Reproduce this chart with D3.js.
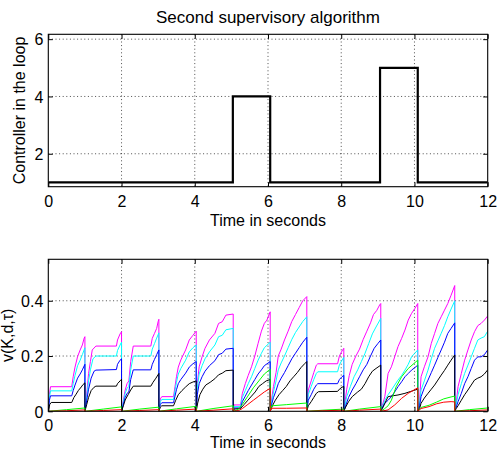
<!DOCTYPE html>
<html>
<head>
<meta charset="utf-8">
<script src="https://cdn.jsdelivr.net/npm/d3@7"></script>
<style>
  html, body { margin: 0; padding: 0; background: #fff; }
  svg { display: block; font-family: "Liberation Sans", Arial, Helvetica, sans-serif; }
</style>
</head>
<body>
<svg id="chart" width="499" height="453"></svg>
<script>
// ---------------- DATA ----------------
const title = "Second supervisory algorithm";
const xLabel = "Time in seconds";
const topYLabel = "Controller in the loop";
const bottomYLabel = "v(K,d,\u03C4)";

const xTicks = [0, 2, 4, 6, 8, 10, 12];
const topYTicks = [2, 4, 6];
const bottomYTicks = [0, 0.2, 0.4];
const bottomYTickLabels = ["0", "0.2", "0.4"];

// Controller in the loop (switch times and controller index)
const switchTimes = [0, 5.04, 6.06, 9.06, 10.09, 12];
const controllerIndex = [1, 4, 1, 5, 1, 1];

// v(K,d,tau) series, [time, value]
const magenta = [
  [0,0],[0.03,0.06],[0.06,0.089],[0.64,0.089],[0.68,0.125],[0.73,0.16],[0.8,0.198],[0.87,0.222],[0.93,0.24],[0.98,0.265],[1.0,0.27],
  [1.0,0],[1.04,0.05],[1.1,0.137],[1.15,0.18],[1.2,0.222],[1.3,0.236],[1.86,0.236],[1.89,0.258],[1.96,0.28],[2.0,0.288],
  [2.0,0],[2.05,0.04],[2.1,0.077],[2.15,0.1],[2.2,0.11],[2.25,0.18],[2.32,0.236],[2.8,0.236],[2.84,0.264],[2.9,0.282],[2.96,0.3],[3.0,0.325],[3.02,0.333],
  [3.02,0],[3.06,0.045],[3.1,0.053],[3.42,0.053],[3.46,0.089],[3.5,0.125],[3.55,0.16],[3.62,0.186],[3.75,0.222],[3.85,0.258],[3.95,0.275],[4.04,0.29],
  [4.04,0],[4.07,0.1],[4.12,0.161],[4.2,0.197],[4.28,0.228],[4.4,0.258],[4.55,0.282],[4.65,0.318],[4.75,0.324],[4.85,0.348],[5.05,0.352],
  [5.05,0],[5.07,0.023],[5.25,0.023],[5.3,0.065],[5.38,0.1],[5.46,0.13],[5.55,0.161],[5.64,0.2],[5.73,0.246],[5.82,0.29],[5.9,0.318],[5.97,0.33],[6.06,0.36],
  [6.06,0],[6.1,0.045],[6.15,0.09],[6.22,0.14],[6.28,0.2],[6.36,0.225],[6.45,0.258],[6.55,0.29],[6.65,0.325],[6.75,0.35],[6.85,0.375],[6.95,0.4],[7.06,0.415],
  [7.06,0],[7.1,0.077],[7.18,0.11],[7.25,0.14],[7.32,0.167],[7.36,0.172],[7.9,0.172],[7.95,0.2],[8.02,0.218],[8.07,0.228],
  [8.07,0],[8.1,0.03],[8.15,0.08],[8.22,0.13],[8.3,0.17],[8.4,0.2],[8.5,0.225],[8.6,0.26],[8.7,0.29],[8.8,0.32],[8.88,0.35],[8.97,0.365],[9.05,0.385],[9.08,0.39],
  [9.08,0],[9.12,0.02],[9.19,0.053],[9.28,0.137],[9.37,0.161],[9.46,0.197],[9.55,0.234],[9.65,0.264],[9.74,0.294],[9.83,0.33],[9.92,0.354],[10.01,0.372],[10.09,0.39],
  [10.09,0],[10.14,0.04],[10.18,0.125],[10.27,0.161],[10.37,0.197],[10.46,0.246],[10.55,0.282],[10.64,0.318],[10.73,0.342],[10.82,0.366],[10.91,0.39],[11.0,0.42],[11.1,0.455],
  [11.1,0],[11.14,0.03],[11.19,0.089],[11.28,0.137],[11.37,0.185],[11.46,0.222],[11.55,0.258],[11.64,0.288],[11.73,0.31],[11.82,0.318],[11.91,0.33],[12.0,0.345]
];
const cyan = [
  [0,0],[0.03,0.05],[0.06,0.074],[0.64,0.074],[0.68,0.1],[0.73,0.13],[0.8,0.165],[0.87,0.185],[0.93,0.205],[1.0,0.23],
  [1.0,0],[1.04,0.04],[1.1,0.11],[1.15,0.15],[1.22,0.19],[1.3,0.2],[1.86,0.2],[1.89,0.22],[1.96,0.24],[2.0,0.25],
  [2.0,0],[2.05,0.035],[2.1,0.065],[2.15,0.083],[2.2,0.09],[2.25,0.15],[2.32,0.2],[2.8,0.2],[2.84,0.225],[2.9,0.245],[2.96,0.265],[3.02,0.284],
  [3.02,0],[3.06,0.035],[3.1,0.043],[3.42,0.043],[3.46,0.075],[3.5,0.105],[3.55,0.135],[3.62,0.155],[3.75,0.185],[3.85,0.215],[3.95,0.23],[4.04,0.24],
  [4.04,0],[4.07,0.085],[4.12,0.135],[4.2,0.165],[4.28,0.19],[4.4,0.215],[4.55,0.24],[4.65,0.27],[4.75,0.275],[4.85,0.295],[5.05,0.3],
  [5.05,0],[5.07,0.017],[5.25,0.017],[5.3,0.05],[5.38,0.075],[5.46,0.1],[5.55,0.125],[5.64,0.155],[5.73,0.185],[5.82,0.21],[5.9,0.23],[6.06,0.25],
  [6.06,0],[6.1,0.035],[6.15,0.07],[6.22,0.11],[6.28,0.15],[6.36,0.175],[6.45,0.2],[6.55,0.23],[6.65,0.26],[6.75,0.285],[6.85,0.305],[6.95,0.325],[7.06,0.342],
  [7.06,0],[7.1,0.06],[7.18,0.09],[7.25,0.115],[7.32,0.137],[7.36,0.143],[7.9,0.143],[7.95,0.168],[8.02,0.185],[8.07,0.195],
  [8.07,0],[8.1,0.02],[8.15,0.053],[8.25,0.09],[8.35,0.125],[8.45,0.15],[8.55,0.18],[8.65,0.21],[8.75,0.245],[8.85,0.28],[8.95,0.305],[9.08,0.336],
  [9.08,0],[9.12,0.015],[9.19,0.04],[9.28,0.06],[9.37,0.077],[9.46,0.095],[9.55,0.113],[9.65,0.13],[9.74,0.149],[9.83,0.17],[9.92,0.197],[10.01,0.21],[10.09,0.222],
  [10.09,0],[10.14,0.03],[10.18,0.077],[10.27,0.11],[10.37,0.149],[10.46,0.19],[10.55,0.228],[10.64,0.255],[10.73,0.282],[10.82,0.31],[10.91,0.342],[11.0,0.37],[11.1,0.4],
  [11.1,0],[11.14,0.025],[11.19,0.06],[11.28,0.1],[11.37,0.137],[11.46,0.167],[11.55,0.197],[11.64,0.228],[11.73,0.258],[11.82,0.265],[11.91,0.27],[12.0,0.29]
];
const blue = [
  [0,0],[0.03,0.04],[0.06,0.056],[0.64,0.056],[0.68,0.075],[0.73,0.095],[0.8,0.12],[0.87,0.135],[0.93,0.15],[1.0,0.17],
  [1.0,0],[1.05,0.04],[1.1,0.08],[1.17,0.12],[1.25,0.145],[1.3,0.149],[1.86,0.151],[1.89,0.17],[1.96,0.185],[2.0,0.19],
  [2.0,0],[2.05,0.025],[2.1,0.05],[2.15,0.065],[2.2,0.07],[2.25,0.115],[2.32,0.15],[2.8,0.15],[2.84,0.17],[2.9,0.188],[2.96,0.205],[3.02,0.222],
  [3.02,0],[3.06,0.025],[3.1,0.031],[3.42,0.031],[3.46,0.055],[3.5,0.078],[3.55,0.1],[3.62,0.115],[3.75,0.138],[3.85,0.16],[3.95,0.172],[4.04,0.18],
  [4.04,0],[4.07,0.06],[4.12,0.1],[4.2,0.125],[4.28,0.145],[4.4,0.165],[4.55,0.183],[4.65,0.205],[4.75,0.21],[4.85,0.225],[5.05,0.228],
  [5.05,0],[5.07,0.012],[5.25,0.012],[5.3,0.035],[5.38,0.055],[5.46,0.075],[5.55,0.095],[5.64,0.115],[5.73,0.135],[5.82,0.15],[5.9,0.165],[6.06,0.18],
  [6.06,0],[6.1,0.025],[6.15,0.05],[6.22,0.075],[6.28,0.1],[6.36,0.12],[6.45,0.14],[6.55,0.165],[6.65,0.19],[6.75,0.21],[6.85,0.23],[6.95,0.25],[7.06,0.268],
  [7.06,0],[7.1,0.04],[7.18,0.06],[7.25,0.08],[7.32,0.095],[7.36,0.1],[7.9,0.1],[7.95,0.115],[8.02,0.125],[8.07,0.13],
  [8.07,0],[8.12,0.02],[8.2,0.05],[8.3,0.077],[8.4,0.1],[8.5,0.125],[8.6,0.15],[8.7,0.17],[8.8,0.2],[8.9,0.228],[9.0,0.245],[9.08,0.258],
  [9.08,0],[9.12,0.01],[9.19,0.029],[9.28,0.04],[9.37,0.053],[9.46,0.07],[9.55,0.089],[9.65,0.107],[9.74,0.125],[9.83,0.137],[9.92,0.149],[10.01,0.158],[10.09,0.167],
  [10.09,0],[10.14,0.02],[10.18,0.053],[10.27,0.085],[10.37,0.113],[10.46,0.14],[10.55,0.167],[10.64,0.195],[10.73,0.222],[10.82,0.25],[10.91,0.282],[11.0,0.3],[11.1,0.32],
  [11.1,0],[11.14,0.015],[11.19,0.035],[11.28,0.065],[11.37,0.1],[11.46,0.125],[11.55,0.155],[11.64,0.185],[11.73,0.197],[11.82,0.197],[11.91,0.205],[12.0,0.222]
];
const black = [
  [0,0],[0.04,0.025],[0.08,0.032],[0.64,0.032],[0.7,0.05],[0.76,0.062],[0.82,0.075],[0.9,0.088],[0.95,0.097],[1.0,0.103],
  [1.0,0],[1.05,0.025],[1.1,0.05],[1.17,0.075],[1.25,0.087],[1.3,0.091],[1.86,0.091],[1.89,0.1],[1.96,0.11],[2.0,0.116],
  [2.0,0],[2.05,0.02],[2.1,0.041],[2.18,0.06],[2.25,0.077],[2.32,0.091],[2.8,0.091],[2.86,0.105],[2.94,0.12],[3.02,0.137],
  [3.02,0],[3.06,0.015],[3.1,0.02],[3.42,0.02],[3.48,0.04],[3.55,0.06],[3.65,0.075],[3.75,0.088],[3.85,0.1],[3.95,0.106],[4.04,0.11],
  [4.04,0],[4.08,0.03],[4.14,0.06],[4.22,0.08],[4.3,0.095],[4.42,0.105],[4.55,0.118],[4.65,0.132],[4.75,0.138],[4.85,0.147],[5.05,0.149],
  [5.05,0],[5.07,0.008],[5.25,0.01],[5.35,0.025],[5.45,0.04],[5.55,0.055],[5.65,0.07],[5.75,0.09],[5.85,0.1],[5.95,0.11],[6.06,0.115],
  [6.06,0],[6.12,0.02],[6.2,0.04],[6.3,0.06],[6.4,0.075],[6.5,0.09],[6.6,0.11],[6.7,0.125],[6.8,0.14],[6.9,0.158],[7.0,0.172],[7.06,0.18],
  [7.06,0],[7.1,0.02],[7.18,0.035],[7.25,0.05],[7.32,0.065],[7.38,0.071],[7.9,0.072],[7.95,0.08],[8.02,0.087],[8.07,0.09],
  [8.07,0],[8.12,0.015],[8.2,0.035],[8.3,0.053],[8.45,0.07],[8.55,0.08],[8.65,0.1],[8.75,0.125],[8.85,0.145],[8.95,0.155],[9.08,0.167],
  [9.08,0],[9.12,0.01],[9.19,0.029],[9.28,0.053],[9.4,0.056],[9.55,0.059],[9.74,0.065],[9.9,0.072],[10.09,0.08],
  [10.09,0],[10.14,0.01],[10.18,0.029],[10.27,0.048],[10.37,0.065],[10.46,0.08],[10.55,0.095],[10.64,0.113],[10.73,0.131],[10.82,0.148],[10.91,0.167],[11.0,0.185],[11.1,0.204],
  [11.1,0],[11.14,0.01],[11.19,0.02],[11.28,0.04],[11.37,0.06],[11.46,0.077],[11.55,0.095],[11.64,0.113],[11.73,0.12],[11.82,0.125],[11.91,0.135],[12.0,0.15]
];
const green = [
  [0,0],[0.5,0.006],[1.0,0.012],
  [1.0,0],[1.5,0.008],[2.0,0.016],
  [2.0,0],[2.5,0.008],[3.02,0.015],
  [3.02,0],[3.5,0.009],[4.04,0.018],
  [4.04,0],[4.5,0.01],[5.05,0.02],
  [5.05,0],[5.2,0.008],[5.3,0.025],[5.45,0.055],[5.6,0.085],[5.75,0.11],[5.9,0.135],[6.06,0.152],
  [6.06,0],[6.1,0.02],[6.5,0.024],[7.06,0.03],
  [7.06,0],[7.5,0.004],[8.07,0.008],
  [8.07,0],[8.5,0.008],[9.08,0.017],
  [9.08,0],[9.19,0.01],[9.28,0.02],[9.37,0.04],[9.5,0.089],[9.65,0.125],[9.83,0.155],[10.09,0.185],
  [10.09,0],[10.18,0.014],[10.4,0.022],[10.6,0.033],[10.8,0.045],[11.0,0.052],[11.1,0.055],
  [11.1,0],[11.5,0.006],[12.0,0.012]
];
const red = [
  [0,0],[0.5,0.002],[1.0,0.005],
  [1.0,0],[1.5,0.003],[2.0,0.006],
  [2.0,0],[2.5,0.003],[3.02,0.006],
  [3.02,0],[3.5,0.004],[4.04,0.008],
  [4.04,0],[4.5,0.004],[5.05,0.009],
  [5.05,0],[5.2,0.003],[5.3,0.01],[5.45,0.025],[5.6,0.04],[5.75,0.055],[5.9,0.07],[6.06,0.083],
  [6.06,0],[6.1,0.011],[6.5,0.011],[7.06,0.012],
  [7.06,0],[7.5,0.002],[8.07,0.004],
  [8.07,0],[8.5,0.004],[9.08,0.008],
  [9.08,0],[9.28,0.005],[9.46,0.023],[9.65,0.047],[9.83,0.065],[10.09,0.085],
  [10.09,0],[10.18,0.01],[10.4,0.017],[10.6,0.027],[10.8,0.033],[11.0,0.035],[11.1,0.034],
  [11.1,0],[11.5,0.002],[12.0,0.005]
];
const seriesNames = ["magenta", "cyan", "blue", "black", "green", "red"];
const seriesColors = ["#ff00ff", "#00ffff", "#0000ff", "#000000", "#00ff00", "#ff0000"];

// ---------------- LAYOUT ----------------
const svg = d3.select("#chart");
const X0 = 48.3, X1 = 487.7;
const topBox = { y0: 34.3, y1: 186.7 };
const botBox = { y0: 259.3, y1: 411.3 };

const x = d3.scaleLinear().domain([0, 12]).range([X0, X1]);
const yTop = d3.scaleLinear().domain([0.85, 6.17]).range([topBox.y1, topBox.y0]);
const yBot = d3.scaleLinear().domain([0, 0.55]).range([botBox.y1, botBox.y0]);

const FS = 16;

function drawAxes(ys, box, yTicks, clipId) {
  const g = svg.append("g");
  g.append("rect").attr("x", X0).attr("y", box.y0).attr("width", X1 - X0).attr("height", box.y1 - box.y0).attr("fill", "#fff");
  g.append("g").selectAll("line").data(xTicks.filter(d => d > 0 && d < 12)).join("line")
    .attr("x1", d => x(d)).attr("x2", d => x(d)).attr("y1", box.y0).attr("y2", box.y1)
    .attr("stroke", "#000").attr("stroke-width", 0.7).attr("stroke-dasharray", "1,2.6");
  g.append("g").selectAll("line").data(yTicks.filter(d => ys(d) > box.y0 + 1 && ys(d) < box.y1 - 1)).join("line")
    .attr("y1", d => ys(d)).attr("y2", d => ys(d)).attr("x1", X0).attr("x2", X1)
    .attr("stroke", "#000").attr("stroke-width", 0.7).attr("stroke-dasharray", "1,2.6");
  svg.append("clipPath").attr("id", clipId).append("rect")
    .attr("x", X0).attr("y", box.y0).attr("width", X1 - X0).attr("height", box.y1 - box.y0);
  return g;
}

function finishAxes(ys, box, yTicks, yTickFmt) {
  const g = svg.append("g");
  const ax = g.append("g").attr("transform", `translate(0,${box.y1})`)
    .call(d3.axisBottom(x).tickValues(xTicks).tickSizeInner(-4.5).tickSizeOuter(0).tickPadding(8.5).tickFormat(d3.format("d")));
  const axT = g.append("g").attr("transform", `translate(0,${box.y0})`)
    .call(d3.axisTop(x).tickValues(xTicks).tickSizeInner(-4.5).tickSizeOuter(0).tickFormat(""));
  const ay = g.append("g").attr("transform", `translate(${X0},0)`)
    .call(d3.axisLeft(ys).tickValues(yTicks).tickSizeInner(-4.5).tickSizeOuter(0).tickPadding(5).tickFormat(yTickFmt));
  const ayR = g.append("g").attr("transform", `translate(${X1},0)`)
    .call(d3.axisRight(ys).tickValues(yTicks).tickSizeInner(-4.5).tickSizeOuter(0).tickFormat(""));
  [ax, axT, ay, ayR].forEach(a => {
    a.select(".domain").remove();
    a.selectAll("line").attr("stroke", "#000").attr("stroke-width", 1);
    a.selectAll("text").attr("font-size", FS).attr("fill", "#000").attr("font-family", null);
  });
  ay.selectAll("text").attr("dy", "0.36em");
  g.append("rect").attr("x", X0).attr("y", box.y0).attr("width", X1 - X0).attr("height", box.y1 - box.y0)
    .attr("fill", "none").attr("stroke", "#000").attr("stroke-width", 1.1);
}

// ---------- top plot ----------
drawAxes(yTop, topBox, topYTicks, "clipTop");
const stepData = switchTimes.map((t, i) => [t, controllerIndex[i]]);
svg.append("path").datum(stepData)
  .attr("clip-path", "url(#clipTop)")
  .attr("fill", "none").attr("stroke", "#000").attr("stroke-width", 2.2)
  .attr("d", d3.line().x(d => x(d[0])).y(d => yTop(d[1])).curve(d3.curveStepAfter));
finishAxes(yTop, topBox, topYTicks, d3.format("d"));

// ---------- bottom plot ----------
drawAxes(yBot, botBox, bottomYTicks, "clipBot");
const allSeries = [magenta, cyan, blue, black, green, red];
const line = d3.line().x(d => x(d[0])).y(d => yBot(d[1]));
svg.append("g").attr("clip-path", "url(#clipBot)")
  .selectAll("path").data(allSeries).join("path")
  .attr("fill", "none")
  .attr("stroke", (d, i) => seriesColors[i])
  .attr("stroke-width", 1)
  .attr("d", line);
finishAxes(yBot, botBox, bottomYTicks, (d, i) => bottomYTickLabels[i]);

// ---------- labels ----------
svg.append("text").attr("x", (X0 + X1) / 2).attr("y", 23).attr("text-anchor", "middle")
  .attr("font-size", 17).text(title);
svg.append("text").attr("x", (X0 + X1) / 2).attr("y", topBox.y1 + 39).attr("text-anchor", "middle")
  .attr("font-size", FS).text(xLabel);
svg.append("text").attr("x", (X0 + X1) / 2).attr("y", botBox.y1 + 36.5).attr("text-anchor", "middle")
  .attr("font-size", FS).text(xLabel);
svg.append("text").attr("transform", `translate(25,${(topBox.y0 + topBox.y1) / 2}) rotate(-90)`)
  .attr("text-anchor", "middle").attr("font-size", FS).text(topYLabel);
svg.append("text").attr("transform", `translate(13,${(botBox.y0 + botBox.y1) / 2}) rotate(-90)`)
  .attr("text-anchor", "middle").attr("font-size", FS).text(bottomYLabel);
</script>
</body>
</html>
